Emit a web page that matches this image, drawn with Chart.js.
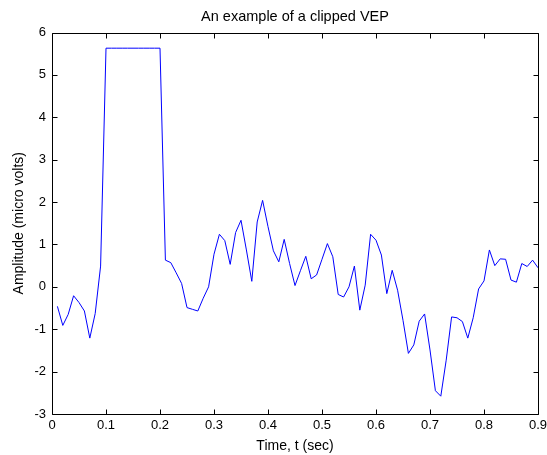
<!DOCTYPE html>
<html>
<head>
<meta charset="utf-8">
<script src="https://cdn.jsdelivr.net/npm/chart.js@4.4.0/dist/chart.umd.min.js"></script>
<style>
  html, body { margin: 0; padding: 0; background: #fff; }
</style>
</head>
<body>
<canvas id="vepChart" width="547" height="455"></canvas>
<script>
// sample times (sec)
const times = [
  0.01, 0.02, 0.03, 0.04, 0.05, 0.06, 0.07, 0.08, 0.09, 0.10,
  0.11, 0.12, 0.13, 0.14, 0.15, 0.16, 0.17, 0.18, 0.19, 0.20,
  0.21, 0.22, 0.23, 0.24, 0.25, 0.26, 0.27, 0.28, 0.29, 0.30,
  0.31, 0.32, 0.33, 0.34, 0.35, 0.36, 0.37, 0.38, 0.39, 0.40,
  0.41, 0.42, 0.43, 0.44, 0.45, 0.46, 0.47, 0.48, 0.49, 0.50,
  0.51, 0.52, 0.53, 0.54, 0.55, 0.56, 0.57, 0.58, 0.59, 0.60,
  0.61, 0.62, 0.63, 0.64, 0.65, 0.66, 0.67, 0.68, 0.69, 0.70,
  0.71, 0.72, 0.73, 0.74, 0.75, 0.76, 0.77, 0.78, 0.79, 0.80,
  0.81, 0.82, 0.83, 0.84, 0.85, 0.86, 0.87, 0.88, 0.89, 0.90
];

// amplitude (micro volts), clipped at 5.63
const amplitude = [
  -0.46, -0.91, -0.65, -0.21, -0.37, -0.57, -1.21, -0.63, 0.49, 5.63,
  5.63, 5.63, 5.63, 5.63, 5.63, 5.63, 5.63, 5.63, 5.63, 5.63,
  0.63, 0.57, 0.33, 0.08, -0.49, -0.53, -0.57, -0.27, 0.00, 0.77,
  1.24, 1.09, 0.53, 1.28, 1.57, 0.87, 0.13, 1.53, 2.04, 1.42,
  0.85, 0.59, 1.12, 0.55, 0.03, 0.38, 0.72, 0.19, 0.28, 0.65,
  1.02, 0.71, -0.18, -0.24, 0.00, 0.49, -0.55, 0.04, 1.24, 1.10,
  0.75, -0.16, 0.39, -0.08, -0.79, -1.57, -1.37, -0.81, -0.64, -1.49,
  -2.45, -2.58, -1.73, -0.71, -0.73, -0.82, -1.21, -0.73, -0.05, 0.14,
  0.87, 0.50, 0.66, 0.65, 0.16, 0.11, 0.55, 0.48, 0.63, 0.45
];

const xTicks = [0, 0.1, 0.2, 0.3, 0.4, 0.5, 0.6, 0.7, 0.8, 0.9];
const yTicks = [-3, -2, -1, 0, 1, 2, 3, 4, 5, 6];
const chartTitle = "An example of a clipped VEP";

const FONT = "'Liberation Sans', Arial, Helvetica, sans-serif";

// box around the axes with inward tick marks, like matlab
const boxTicks = {
  id: "boxTicks",
  afterDatasetsDraw(chart) {
    const { ctx, chartArea: a, scales } = chart;
    const L = Math.round(a.left) + 0.5;
    const R = Math.round(a.right) + 0.5;
    const T = Math.round(a.top) + 0.5;
    const B = Math.round(a.bottom) + 0.5;
    const len = 5;
    ctx.save();
    ctx.strokeStyle = "#000";
    ctx.lineWidth = 1;
    ctx.beginPath();
    ctx.rect(L, T, R - L, B - T);
    xTicks.forEach((v) => {
      const px = Math.round(scales.x.getPixelForValue(v)) + 0.5;
      ctx.moveTo(px, B); ctx.lineTo(px, B - len);
      ctx.moveTo(px, T); ctx.lineTo(px, T + len);
    });
    yTicks.forEach((v) => {
      const py = Math.round(scales.y.getPixelForValue(v)) + 0.5;
      ctx.moveTo(L, py); ctx.lineTo(L + len, py);
      ctx.moveTo(R, py); ctx.lineTo(R - len, py);
    });
    ctx.stroke();

    // title centred over the plot area (not the whole canvas)
    ctx.fillStyle = "#000";
    ctx.font = "14.5px " + FONT;
    ctx.textAlign = "center";
    ctx.textBaseline = "alphabetic";
    ctx.fillText(chartTitle, (a.left + a.right) / 2, 21);
    ctx.restore();
  }
};

new Chart(document.getElementById("vepChart").getContext("2d"), {
  type: "line",
  data: {
    datasets: [
      {
        data: times.map((t, i) => ({ x: t, y: amplitude[i] })),
        borderColor: "#0000ff",
        borderWidth: 1,
        pointRadius: 0,
        tension: 0,
        fill: false,
      },
    ],
  },
  options: {
    responsive: false,
    animation: false,
    devicePixelRatio: 1,
    layout: { padding: { left: 0, right: 9, top: 32.5, bottom: 0 } },
    plugins: {
      legend: { display: false },
      tooltip: { enabled: false },
      title: { display: false },
    },
    scales: {
      x: {
        type: "linear",
        min: 0,
        max: 0.9,
        afterBuildTicks: (scale) => { scale.ticks = xTicks.map((v) => ({ value: v })); },
        afterFit: (scale) => {
          scale.height = 41;
          scale.paddingLeft = 0;
          scale.paddingRight = 0;
        },
        ticks: {
          color: "#000",
          font: { family: FONT, size: 13 },
          padding: 4,
          maxRotation: 0,
          autoSkip: false,
        },
        grid: { display: false, drawTicks: false },
        border: { display: false },
        title: {
          display: true,
          text: "Time, t (sec)",
          color: "#000",
          font: { family: FONT, size: 14 },
          padding: { top: 0, bottom: 0 },
        },
      },
      y: {
        min: -3,
        max: 6,
        afterBuildTicks: (scale) => { scale.ticks = yTicks.map((v) => ({ value: v })); },
        afterFit: (scale) => {
          scale.width = 52;
          scale.paddingTop = 0;
          scale.paddingBottom = 0;
        },
        ticks: {
          color: "#000",
          font: { family: FONT, size: 13 },
          padding: 6,
          autoSkip: false,
        },
        grid: { display: false, drawTicks: false },
        border: { display: false },
        title: {
          display: true,
          text: "Amplitude (micro volts)",
          color: "#000",
          font: { family: FONT, size: 14 },
          padding: { top: 11, bottom: 0 },
        },
      },
    },
  },
  plugins: [boxTicks],
});
</script>
</body>
</html>
